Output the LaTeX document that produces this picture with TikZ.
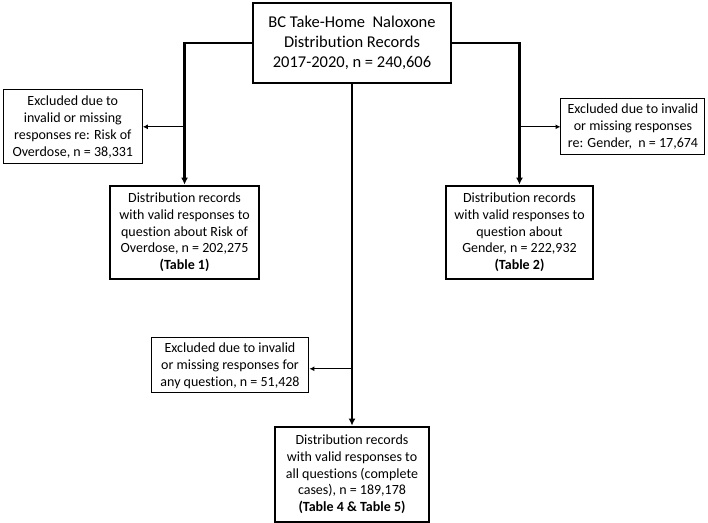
\documentclass[tikz,border=0pt]{standalone}
\usepackage{fontspec}
\setmainfont{Carlito}[Ligatures=NoCommon]
\usepackage{tikz}
\usetikzlibrary{shapes.geometric, arrows.meta}
\tikzstyle{source} = [rectangle, minimum width=6.96cm, minimum height=2.81cm, text centered, align=center, draw=black, line width=2.4pt, fill=white, font=\fontsize{16.5}{20}\selectfont]
\tikzstyle{records} = [rectangle, minimum height=3.27cm, text centered, align=center, draw=black, line width=2.4pt, fill=white, font=\fontsize{14}{16.7}\selectfont]
\tikzstyle{excluded} = [rectangle, text centered, align=center, draw=black, line width=1pt, fill=white, font=\fontsize{14}{17}\selectfont]
\tikzstyle{arrow} = [line width=2.4pt, -{Latex[length=7pt,width=7pt]}]
\tikzstyle{sidearrow} = [line width=1pt, -{Latex[length=5pt,width=5pt]}]

\begin{document}
\begin{tikzpicture}[node distance=2cm]
        \useasboundingbox (-12.38,1.51) rectangle (12.52,-16.88);
        % Nodes
        \node (source) [source] {BC Take-Home\ \ Naloxone\\Distribution Records\\2017-2020, n = 240,606};
        \node (riskRecords) [records, minimum width=5.24cm, below of=source, xshift=-5.89cm, yshift=-4.66cm] {Distribution records\\with valid responses to\\question about Risk of\\Overdose, n = 202,275\\\textbf{(Table 1)}};
        \node (genderRecords) [records, minimum width=5.17cm, below of=source, xshift=5.89cm, yshift=-4.66cm] {Distribution records\\with valid responses to\\question about\\Gender, n = 222,932\\\textbf{(Table 2)}};
        \node (completeRecords) [records, minimum width=5.41cm, minimum height=3.34cm, below of=source, yshift=-13.17cm] {Distribution records\\with valid responses to\\all questions (complete\\cases), n = 189,178\\\textbf{(Table 4 \& Table 5)}};
        \node (riskExcl) [excluded, minimum width=4.89cm, minimum height=2.6cm, below of=source, xshift=-9.82cm, yshift=-0.95cm] {Excluded due to\\invalid or missing\\responses re: Risk of\\Overdose, n = 38,331};
        \node (genderExcl) [excluded, minimum width=5.06cm, minimum height=1.97cm, below of=source, xshift=9.88cm, yshift=-0.95cm] {Excluded due to invalid\\or missing responses\\re: Gender,\ \ n = 17,674};
        \node (anyExcl) [excluded, minimum width=5.55cm, minimum height=1.93cm, below of=source, xshift=-4.29cm, yshift=-9.34cm] {Excluded due to invalid\\or missing responses for\\any question, n = 51,428};

        % Arrows
        \draw [arrow] (source.west) -| (riskRecords.north);
        \draw [arrow] (source.east) -| (genderRecords.north);
        \draw [arrow] (source.south) -- (completeRecords.north);
        \draw [sidearrow] (riskExcl.east -| riskRecords.north) -- (riskExcl.east);
        \draw [sidearrow] (genderExcl.west -| genderRecords.north) -- (genderExcl.west);
        \draw [sidearrow] ([yshift=-0.12cm]anyExcl.east -| source.south) -- ([yshift=-0.12cm]anyExcl.east);
    \end{tikzpicture}
\end{document}
